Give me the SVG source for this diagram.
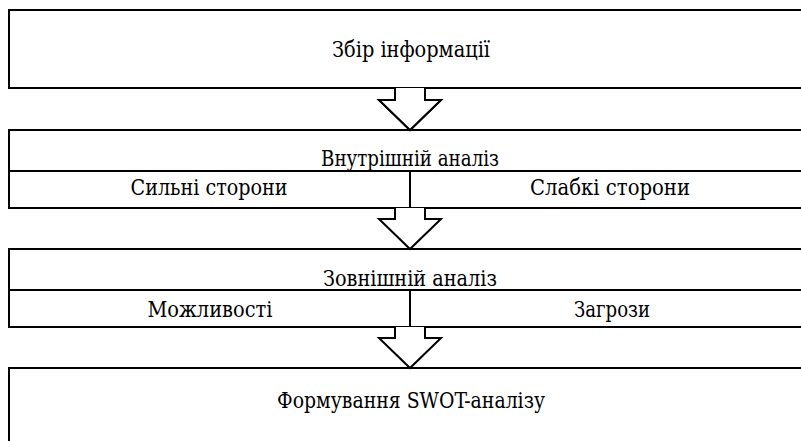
<svg xmlns="http://www.w3.org/2000/svg" width="801" height="441" viewBox="0 0 801 441">
  <style>
    .box { fill: #ffffff; stroke: #000000; stroke-width: 2; }
    .line { fill: none; stroke: #000000; stroke-width: 2; }
    .arrow { fill: #ffffff; stroke: #000000; stroke-width: 2; stroke-linejoin: miter; }
    .lbl { font-family: 'DejaVu Serif Condensed', 'DejaVu Serif', serif; font-size: 22px; fill: #000000; text-anchor: middle; }
  </style>
  <rect width="801" height="441" fill="#ffffff"/>

  <!-- Stage 1 -->
  <g id="collect">
    <rect class="box" x="9" y="10" width="800" height="78"/>
    <text class="lbl" x="411" y="57" textLength="158" lengthAdjust="spacingAndGlyphs">Збір інформації</text>
  </g>

  <!-- Stage 2 -->
  <g id="internal">
    <rect class="box" x="9" y="130" width="800" height="78"/>
    <line class="line" x1="9" y1="171" x2="801" y2="171"/>
    <line class="line" x1="410" y1="171" x2="410" y2="208"/>
    <text class="lbl" x="410" y="166" textLength="178" lengthAdjust="spacingAndGlyphs">Внутрішній аналіз</text>
    <text class="lbl" x="209" y="195" textLength="157" lengthAdjust="spacingAndGlyphs">Сильні сторони</text>
    <text class="lbl" x="610" y="195" textLength="160" lengthAdjust="spacingAndGlyphs">Слабкі сторони</text>
  </g>

  <!-- Stage 3 -->
  <g id="external">
    <rect class="box" x="9" y="249" width="800" height="78"/>
    <line class="line" x1="9" y1="290" x2="801" y2="290"/>
    <line class="line" x1="410" y1="290" x2="410" y2="327"/>
    <text class="lbl" x="410" y="286" textLength="174" lengthAdjust="spacingAndGlyphs">Зовнішній аналіз</text>
    <text class="lbl" x="210" y="317" textLength="125" lengthAdjust="spacingAndGlyphs">Можливості</text>
    <text class="lbl" x="612" y="317" textLength="76" lengthAdjust="spacingAndGlyphs">Загрози</text>
  </g>

  <!-- Stage 4 -->
  <g id="swot">
    <path class="box" d="M9,445 V368 H809 V445"/>
    <text class="lbl" x="411" y="408" textLength="268" lengthAdjust="spacingAndGlyphs">Формування SWOT-аналізу</text>
  </g>

  <!-- Block arrows between stages -->
  <g id="connectors">
    <polygon class="arrow" points="395,88 395,100 379,100 410,130 441,100 425,100 425,88" stroke="none"/>
    <polyline class="arrow" points="395,88 395,100 379,100 410,130 441,100 425,100 425,88"/>
    <polyline class="arrow" points="395,208 395,219 379,219 410,249 441,219 425,219 425,208"/>
    <polyline class="arrow" points="395,327 395,338 379,338 410,368 441,338 425,338 425,327"/>
  </g>
</svg>
